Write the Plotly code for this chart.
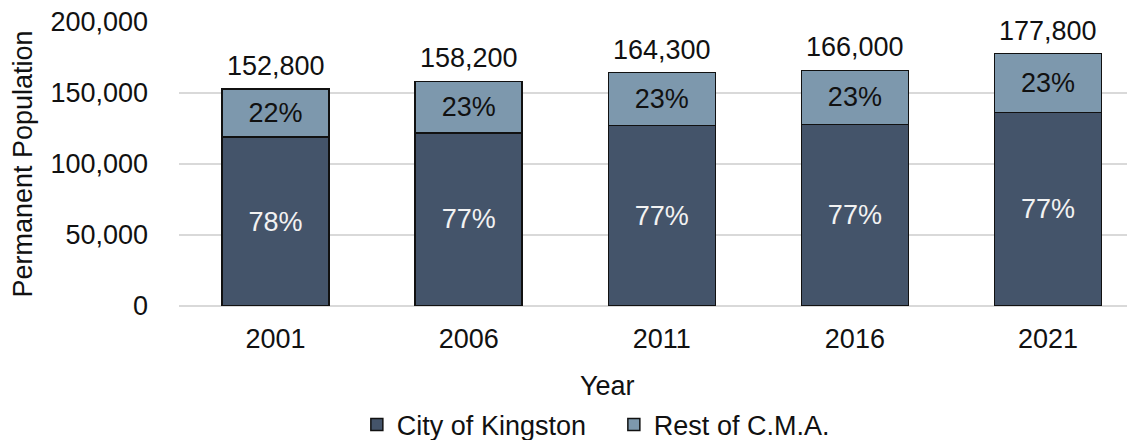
import plotly.graph_objects as go

years = ["2001", "2006", "2011", "2016", "2021"]
city = [119000, 122000, 127000, 127900, 136400]
rest = [33800, 36200, 37300, 38100, 41400]
totals = [c + r for c, r in zip(city, rest)]
ytick_vals = [0, 50000, 100000, 150000, 200000]
ytick_text = ["0", "50,000", "100,000", "150,000", "200,000"]

city_pct = [f"{round(c / t * 100)}%" for c, t in zip(city, totals)]
rest_pct = [f"{round(r / t * 100)}%" for r, t in zip(rest, totals)]

FONT = "Arial, Liberation Sans, sans-serif"
FS = 27
DARK = "#44546A"
LIGHT = "#7D98AD"

fig = go.Figure()
fig.add_trace(go.Bar(
    x=years, y=city, name="City of Kingston",
    marker=dict(color=DARK, line=dict(color="#111111", width=1.5)),
    text=city_pct, textposition="inside", insidetextanchor="middle",
    textfont=dict(family=FONT, size=FS, color="#F2F2F2"),
    hoverinfo="x+y",
))
fig.add_trace(go.Bar(
    x=years, y=rest, name="Rest of C.M.A.",
    marker=dict(color=LIGHT, line=dict(color="#111111", width=1.5)),
    text=rest_pct, textposition="inside", insidetextanchor="middle",
    textfont=dict(family=FONT, size=FS, color="#111111"),
    hoverinfo="x+y",
))

annotations = []
for i, t in enumerate(totals):
    annotations.append(dict(
        x=i, y=t, xref="x", yref="y", text=f"{t:,}", showarrow=False,
        xanchor="center", yanchor="bottom", yshift=6,
        font=dict(family=FONT, size=FS, color="#111111"),
    ))
annotations.append(dict(
    x=0.445, y=-0.2817, xref="paper", yref="paper", text="Year",
    showarrow=False, xanchor="center", yanchor="middle",
    font=dict(family=FONT, size=FS, color="#111111"),
))

fig.update_layout(
    width=1135, height=440,
    margin=dict(l=171, r=0, t=14, b=142, autoexpand=False),
    paper_bgcolor="white", plot_bgcolor="white",
    barmode="stack", bargap=0.446,
    font=dict(family=FONT, size=FS, color="#111111"),
    uniformtext=dict(mode=False),
    annotations=annotations,
    legend=dict(
        orientation="h", x=0.1845, xanchor="left", y=-0.419, yanchor="middle",
        font=dict(family=FONT, size=FS, color="#111111"),
        itemwidth=30, traceorder="normal",
        entrywidth=212, entrywidthmode="pixels",
    ),
    xaxis=dict(
        type="category", range=[-0.5, 4.492], automargin=False,
        showgrid=False, showline=False, zeroline=False,
        tickfont=dict(family=FONT, size=FS, color="#111111"),
        ticklabelstandoff=14,
    ),
    yaxis=dict(
        range=[0, 200000], tickvals=ytick_vals, ticktext=ytick_text,
        automargin=False, ticklabeloverflow="allow",
        showgrid=True, gridcolor="#D9D9D9", gridwidth=1.5,
        zeroline=True, zerolinecolor="#D9D9D9", zerolinewidth=1.5,
        showline=False,
        tickfont=dict(family=FONT, size=FS, color="#111111"),
        ticklabelstandoff=30,
        title=dict(text="Permanent Population", standoff=10,
                   font=dict(family=FONT, size=FS, color="#111111")),
    ),
)

fig.write_html("out.html")
